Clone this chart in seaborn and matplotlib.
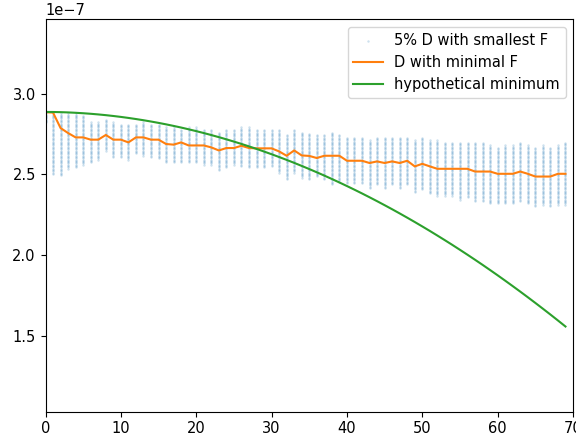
import numpy as np
import pandas as pd
import matplotlib
matplotlib.use("Agg")
import matplotlib.pyplot as plt
import seaborn as sns

# x positions (0..69)
xs = list(range(70))

# D with minimal F (units of 1e-7)
d_min_f = [2.886, 2.884, 2.788, 2.757, 2.730, 2.730, 2.716, 2.716, 2.745, 2.716,
           2.716, 2.699, 2.730, 2.730, 2.716, 2.716, 2.689, 2.685, 2.699, 2.680,
           2.680, 2.680, 2.668, 2.649, 2.664, 2.664, 2.678, 2.664, 2.662, 2.662,
           2.662, 2.643, 2.616, 2.649, 2.618, 2.615, 2.602, 2.616, 2.616, 2.616,
           2.585, 2.585, 2.585, 2.571, 2.581, 2.571, 2.581, 2.571, 2.585, 2.550,
           2.566, 2.550, 2.535, 2.535, 2.535, 2.535, 2.535, 2.518, 2.518, 2.518,
           2.504, 2.504, 2.504, 2.518, 2.504, 2.487, 2.487, 2.487, 2.504, 2.504]

# hypothetical minimum (units of 1e-7)
hyp_min = [2.888, 2.8877, 2.8867, 2.8851, 2.8828, 2.8800, 2.8766, 2.8726, 2.8681, 2.8629,
           2.8572, 2.8509, 2.8440, 2.8366, 2.8286, 2.8201, 2.8110, 2.8013, 2.7911, 2.7803,
           2.7689, 2.7571, 2.7446, 2.7316, 2.7181, 2.7040, 2.6894, 2.6743, 2.6586, 2.6423,
           2.6255, 2.6082, 2.5903, 2.5719, 2.5529, 2.5335, 2.5134, 2.4929, 2.4718, 2.4502,
           2.4280, 2.4053, 2.3821, 2.3583, 2.3340, 2.3092, 2.2839, 2.2580, 2.2316, 2.2047,
           2.1772, 2.1493, 2.1207, 2.0917, 2.0622, 2.0320, 2.0014, 1.9703, 1.9387, 1.9064,
           1.8738, 1.8405, 1.8067, 1.7725, 1.7377, 1.7024, 1.6666, 1.6303, 1.5934, 1.5560]

# extent of the 5% D with smallest F, per x (units of 1e-7)
col_hi = [2.882, 2.882, 2.882, 2.882, 2.882, 2.864, 2.830, 2.830, 2.844, 2.824,
          2.815, 2.809, 2.815, 2.824, 2.815, 2.809, 2.798, 2.794, 2.778, 2.795,
          2.795, 2.782, 2.782, 2.761, 2.778, 2.778, 2.795, 2.795, 2.778, 2.778,
          2.778, 2.778, 2.747, 2.778, 2.763, 2.757, 2.751, 2.751, 2.763, 2.751,
          2.730, 2.730, 2.730, 2.716, 2.730, 2.730, 2.730, 2.730, 2.730, 2.716,
          2.730, 2.716, 2.716, 2.699, 2.699, 2.699, 2.699, 2.699, 2.699, 2.685,
          2.664, 2.685, 2.685, 2.699, 2.685, 2.664, 2.685, 2.664, 2.685, 2.699]
col_lo = [2.820, 2.504, 2.492, 2.529, 2.539, 2.560, 2.574, 2.587, 2.643, 2.602,
          2.608, 2.585, 2.628, 2.616, 2.608, 2.595, 2.574, 2.574, 2.574, 2.574,
          2.574, 2.560, 2.560, 2.525, 2.539, 2.560, 2.550, 2.539, 2.539, 2.539,
          2.550, 2.512, 2.471, 2.512, 2.477, 2.467, 2.483, 2.467, 2.436, 2.456,
          2.446, 2.446, 2.446, 2.415, 2.436, 2.415, 2.436, 2.415, 2.436, 2.388,
          2.404, 2.384, 2.363, 2.363, 2.363, 2.342, 2.353, 2.332, 2.332, 2.317,
          2.317, 2.317, 2.317, 2.332, 2.317, 2.297, 2.311, 2.297, 2.311, 2.311]

# candidate D grid (units of 1e-7)
d_grid = np.arange(2.280, 2.890, 0.008)

scale = 1e-7
sx, sy = [], []
for x, lo, hi in zip(xs, col_lo, col_hi):
    sel = d_grid[(d_grid >= lo - 1e-9) & (d_grid <= hi + 1e-9)]
    sx.extend([x] * len(sel))
    sy.extend(list(sel * scale))
scatter_df = pd.DataFrame({"x": sx, "D": sy})
line_df = pd.DataFrame({"x": xs,
                        "dmin": np.array(d_min_f) * scale,
                        "hyp": np.array(hyp_min) * scale})

plt.rcParams.update(plt.rcParamsDefault)
plt.rcParams["font.size"] = 10.5
fig = plt.figure(figsize=(5.76, 4.4), dpi=100)
ax = fig.add_axes([0.079, 0.0643, 0.9158, 0.8914])

sns.scatterplot(data=scatter_df, x="x", y="D", ax=ax, s=3, color="C0",
                alpha=0.22, linewidth=0, label="5% D with smallest F")
sns.lineplot(data=line_df, x="x", y="dmin", ax=ax, color="C1",
             label="D with minimal F")
sns.lineplot(data=line_df, x="x", y="hyp", ax=ax, color="C2",
             label="hypothetical minimum")

ax.set_xlim(0, 70)
ax.set_ylim(1.027e-7, 3.462e-7)
ax.set_xlabel("")
ax.set_ylabel("")
ax.legend(loc="upper right")

fig.savefig("out.png", dpi=100)
